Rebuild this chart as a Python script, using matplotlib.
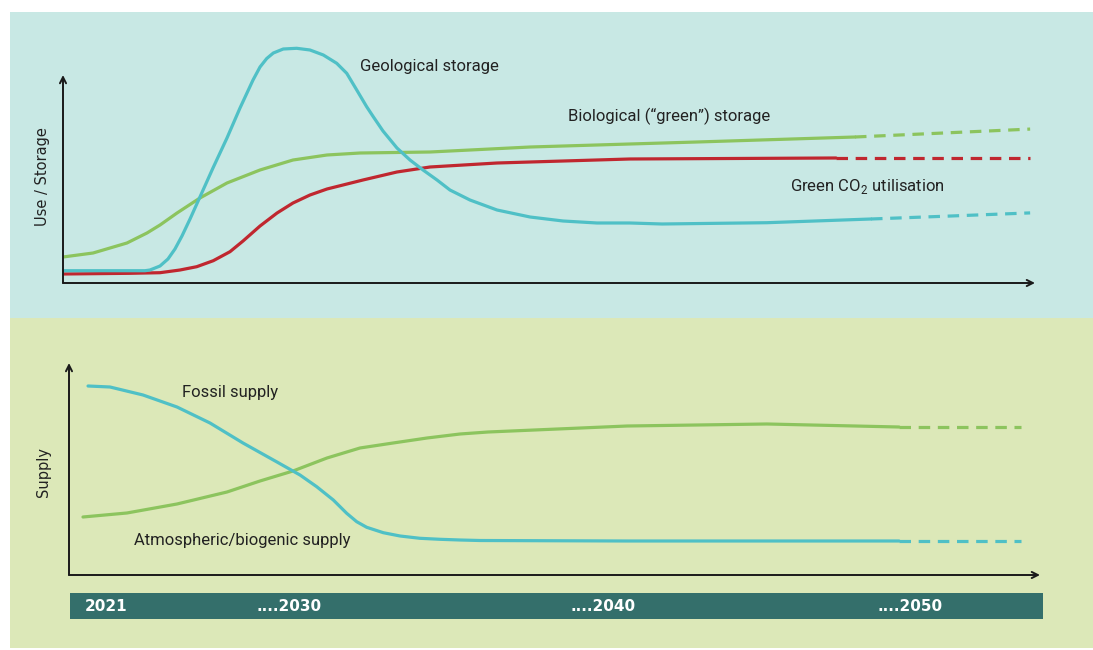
import matplotlib
matplotlib.use("Agg")
import matplotlib.pyplot as plt
from matplotlib.patches import Rectangle

# ---------------- data (relative time 0-100, relative level) ----------------
# Top panel: use / storage
geo_x = [0.0, 8.44, 8.95, 9.98, 10.80, 11.52, 12.24, 13.07, 14.09, 15.43, 16.87,
         18.21, 19.55, 20.27, 20.96, 21.64, 22.66, 24.04, 25.41,
         26.78, 28.16, 29.19, 30.22, 31.24, 31.92, 32.92, 34.36, 35.70, 37.04,
         38.48, 39.81, 41.87, 44.65, 48.05, 51.44, 54.94, 58.33, 61.63, 72.43, 83.13]
geo_y = [5.91, 5.91, 6.25, 8.17, 11.54, 16.35, 22.60, 30.77, 41.35, 55.29, 69.71,
         84.13, 97.60, 103.85, 107.93, 110.58, 112.50, 112.84, 112.02,
         109.62, 105.63, 100.82, 92.79, 84.76, 79.95, 73.08, 64.90, 59.13, 54.33,
         49.52, 44.71, 39.90, 35.10, 31.73, 29.81, 28.85, 28.85, 28.37, 28.99, 30.77]
geo_proj_x = [83.13, 91.3, 99.5]
geo_proj_y = [30.77, 32.2, 33.7]

bio_x = [0.0, 3.09, 6.58, 8.64, 9.98, 11.73, 14.09, 16.87, 20.27, 23.66, 27.16,
         30.56, 37.76, 48.05, 58.33, 65.23, 81.48]
bio_y = [12.50, 14.42, 19.23, 24.04, 27.88, 33.65, 40.87, 48.08, 54.33, 59.13,
         61.54, 62.50, 62.98, 65.38, 66.83, 67.79, 70.19]
bio_proj_x = [81.48, 99.5]
bio_proj_y = [70.19, 74.0]

util_x = [0.0, 6.89, 9.98, 12.04, 13.76, 15.46, 17.18, 18.52, 20.27, 22.02, 23.66,
          25.41, 27.16, 28.81, 30.86, 34.36, 37.76, 44.65, 51.44, 58.33, 79.53]
util_y = [4.33, 4.66, 4.95, 6.25, 7.84, 10.72, 15.05, 20.19, 27.40, 33.65, 38.46,
          42.31, 45.19, 47.12, 49.52, 53.37, 55.77, 57.69, 58.65, 59.62, 60.10]
util_proj_x = [79.53, 99.5]
util_proj_y = [60.10, 60.10]

# Bottom panel: supply
fossil_x = [1.96, 4.22, 7.62, 11.12, 14.52, 17.92, 21.42, 23.79, 25.51, 27.22,
            28.60, 29.63, 30.66, 32.37, 34.09, 36.15, 38.21, 40.27, 42.33, 57.47,
            85.48]
fossil_y = [89.15, 88.68, 84.91, 79.25, 71.70, 62.26, 53.30, 47.17, 41.65, 35.38,
            29.10, 25.14, 22.50, 19.95, 18.40, 17.31, 16.84, 16.51, 16.27, 16.04,
            16.04]
fossil_proj_x = [85.48, 98.0]
fossil_proj_y = [16.04, 16.04]

atm_x = [1.44, 5.97, 11.12, 16.27, 19.67, 23.07, 26.57, 29.97, 33.37, 36.87, 40.27,
         43.15, 57.47, 71.88, 85.48]
atm_y = [27.36, 29.25, 33.49, 39.15, 44.34, 49.06, 55.19, 59.91, 62.26, 64.62,
         66.51, 67.45, 70.28, 71.23, 69.81]
atm_proj_x = [85.48, 98.0]
atm_proj_y = [69.81, 69.81]

year_labels = ["2021", "....2030", "....2040", "....2050"]
year_pos = [1.5, 19.2, 51.4, 83.0]   # relative position along the time band

# ---------------- style ----------------
BG_TOP = "#c8e8e4"
BG_BOT = "#dce8b8"
BAND = "#346f6b"
CYAN = "#4fc0c6"
GREEN = "#8cc45e"
RED = "#c0272f"
AXC = "#1a1a1a"
LW = 2.3
DASH = (0, (3.6, 2.4))
LABEL_FONT = ["Roboto", "DejaVu Sans"]
LABEL_SIZE = 12
TXT = "#222222"

W, H = 1093, 650
fig = plt.figure(figsize=(W / 100, H / 100), dpi=100)
fig.patch.set_facecolor("white")

def fx(px):
    return px / W

def fy(py):
    return 1 - py / H

# panel backgrounds
fig.patches.append(Rectangle((fx(10), fy(318)), fx(W) - fx(10), fy(12) - fy(318),
                             transform=fig.transFigure, facecolor=BG_TOP,
                             edgecolor="none", zorder=-10))
fig.patches.append(Rectangle((fx(10), fy(648)), fx(W) - fx(10), fy(318) - fy(648),
                             transform=fig.transFigure, facecolor=BG_BOT,
                             edgecolor="none", zorder=-10))

line_kw = dict(lw=LW, solid_capstyle="round", solid_joinstyle="round")

# ---------------- top axes ----------------
ax1 = fig.add_axes([fx(63), fy(283), fx(1035) - fx(63), fy(12) - fy(283)])
ax1.set_xlim(0, 100)
ax1.set_ylim(0, (283 - 12) / 2.08)
ax1.set_facecolor("none")
ax1.axis("off")

ax1.plot(bio_x, bio_y, color=GREEN, **line_kw)
ax1.plot(bio_proj_x, bio_proj_y, color=GREEN, lw=LW, ls=DASH)
ax1.plot(util_x, util_y, color=RED, **line_kw)
ax1.plot(util_proj_x, util_proj_y, color=RED, lw=LW, ls=DASH)
ax1.plot(geo_x, geo_y, color=CYAN, **line_kw)
ax1.plot(geo_proj_x, geo_proj_y, color=CYAN, lw=LW, ls=DASH)

arrow = dict(arrowstyle="->", color=AXC, lw=1.4, shrinkA=0, shrinkB=0,
             mutation_scale=11)
ax1.annotate("", xy=(1, 0), xytext=(0, 0), xycoords="axes fraction",
             textcoords="axes fraction", arrowprops=arrow)
ax1.annotate("", xy=(0, 100), xytext=(0, 0), xycoords=("axes fraction", "data"),
             textcoords=("axes fraction", "data"), arrowprops=arrow)

ax1.text(30.6, 104.3, "Geological storage", family=LABEL_FONT, fontsize=LABEL_SIZE,
         color=TXT, va="center", ha="left")
ax1.text(52.0, 80.3, "Biological (\u201cgreen\u201d) storage", family=LABEL_FONT,
         fontsize=LABEL_SIZE, color=TXT, va="center", ha="left")
ax1.text(74.8, 46.5, "Green CO$_\\mathregular{2}$ utilisation", family=LABEL_FONT,
         fontsize=LABEL_SIZE, color=TXT, va="center", ha="left")

# ---------------- bottom axes ----------------
ax2 = fig.add_axes([fx(69), fy(575), fx(1040) - fx(69), fy(318) - fy(575)])
ax2.set_xlim(0, 100)
ax2.set_ylim(0, (575 - 318) / 2.12)
ax2.set_facecolor("none")
ax2.axis("off")

ax2.plot(atm_x, atm_y, color=GREEN, **line_kw)
ax2.plot(atm_proj_x, atm_proj_y, color=GREEN, lw=LW, ls=DASH)
ax2.plot(fossil_x, fossil_y, color=CYAN, **line_kw)
ax2.plot(fossil_proj_x, fossil_proj_y, color=CYAN, lw=LW, ls=DASH)

ax2.annotate("", xy=(1, 0), xytext=(0, 0), xycoords="axes fraction",
             textcoords="axes fraction", arrowprops=arrow)
ax2.annotate("", xy=(0, 100), xytext=(0, 0), xycoords=("axes fraction", "data"),
             textcoords=("axes fraction", "data"), arrowprops=arrow)

ax2.text(11.6, 86.3, "Fossil supply", family=LABEL_FONT, fontsize=LABEL_SIZE,
         color=TXT, va="center", ha="left")
ax2.text(6.7, 16.5, "Atmospheric/biogenic supply", family=LABEL_FONT,
         fontsize=LABEL_SIZE, color=TXT, va="center", ha="left")

# axis titles
fig.text(fx(43), fy(177), "Use / Storage", rotation=90, ha="center", va="center",
         fontsize=10.5, color=TXT, family="DejaVu Sans")
fig.text(fx(43), fy(472), "Supply", rotation=90, ha="center", va="center",
         fontsize=10.5, color=TXT, family="DejaVu Sans")

# ---------------- time band ----------------
ax3 = fig.add_axes([fx(70), fy(619), fx(1043) - fx(70), fy(593) - fy(619)])
ax3.set_xlim(0, 100)
ax3.set_ylim(0, 1)
ax3.set_facecolor(BAND)
for s in ax3.spines.values():
    s.set_visible(False)
ax3.set_xticks([])
ax3.set_yticks([])
for lab, pos in zip(year_labels, year_pos):
    ax3.text(pos, 0.48, lab, color="white", fontweight="bold", fontsize=11,
             ha="left", va="center", family="DejaVu Sans")

fig.savefig("out.png", dpi=100, facecolor=fig.get_facecolor())
